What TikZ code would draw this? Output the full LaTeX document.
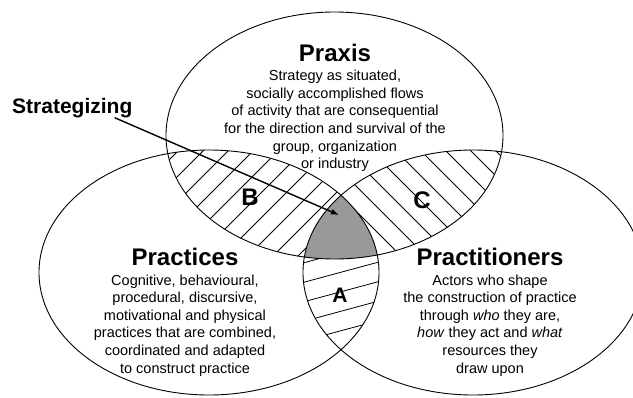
\documentclass[tikz,border=0pt]{standalone}
\usepackage{fontspec}
\setmainfont{Liberation Sans}
\usetikzlibrary{arrows.meta,positioning}

\begin{document}
\begin{tikzpicture}[
    x=1pt, y=-1pt,
    title/.style={font=\fontsize{24}{28}\selectfont\bfseries, inner sep=0pt, anchor=base},
    body/.style={font=\fontsize{14.5}{17.6}\selectfont, align=center, inner sep=0pt},
    letter/.style={font=\fontsize{24}{26}\selectfont\bfseries, inner sep=0pt},
    outline/.style={line width=0.9pt},
    hatch/.style={line width=0.8pt},
    arrow/.style={-{Latex[length=8pt,width=6pt]}, line width=1.4pt}
]
\clip (0,0) rectangle (633,397);

% Ellipse centres
\coordinate (praxisC) at (334.5,135.5);
\coordinate (practC) at (209,272.5);
\coordinate (actorC) at (473,272.5);

% Hatching B
\begin{scope}
  \clip (praxisC) ellipse [x radius=168.5, y radius=123.5];
  \clip (practC) ellipse [x radius=170, y radius=122.5];
  \foreach \k in {304,329,...,604}
    \draw[hatch] (\k-300,300) -- (\k-100,100);
\end{scope}

% Hatching C
\begin{scope}
  \clip (praxisC) ellipse [x radius=168.5, y radius=123.5];
  \clip (actorC) ellipse [x radius=170, y radius=122.5];
  \foreach \k in {-45,-70,...,-370}
    \draw[hatch] (300,300+\k) -- (520,520+\k);
\end{scope}

% Hatching A
\begin{scope}
  \clip (practC) ellipse [x radius=170, y radius=122.5];
  \clip (actorC) ellipse [x radius=170, y radius=122.5];
  \foreach \k in {253,272.5,...,351}
    \draw[hatch] (290,\k+13.5) -- (390,\k-13.5);
\end{scope}

% Grey core
\begin{scope}
  \clip (practC) ellipse [x radius=170, y radius=122.5];
  \clip (actorC) ellipse [x radius=170, y radius=122.5];
  \fill[black!40] (praxisC) ellipse [x radius=168.5, y radius=123.5];
\end{scope}

% Outlines
\draw[outline] (praxisC) ellipse [x radius=168.5, y radius=123.5];
\draw[outline] (practC) ellipse [x radius=170, y radius=122.5];
\draw[outline] (actorC) ellipse [x radius=170, y radius=122.5];

% Titles and texts
\node[title] (praxis) at (335,61.5) {Praxis};
\node[body, below=8pt of praxis] (praxisText) {Strategy as situated,\\socially accomplished flows\\of activity that are consequential\\for the direction and survival of the\\group, organization\\or industry};

\node[title] (practices) at (185,265) {Practices};
\node[body, below=9pt of practices] (practicesText) {Cognitive, behavioural,\\procedural, discursive,\\motivational and physical\\practices that are combined,\\coordinated and adapted\\to construct practice};

\node[title] (practitioners) at (490,265) {Practitioners};
\node[body, below=9pt of practitioners] (practitionersText) {Actors who shape\\the construction of practice\\through \textit{who} they are,\\\textit{how} they act and \textit{what}\\resources they\\draw upon};

% Region letters
\node[letter, font=\fontsize{21}{24}\selectfont\bfseries] (regA) at (340,295) {A};
\node[letter] (regB) at (250,197) {B};
\node[letter] (regC) at (422,200) {C};

% Strategizing
\node[font=\fontsize{21}{24}\selectfont\bfseries, inner sep=0pt, anchor=base west] (strat) at (12,113) {Strategizing};
\coordinate (core) at (339,215);
\draw[arrow] ([xshift=-18pt]strat.south east) -- (core);
\end{tikzpicture}
\end{document}
